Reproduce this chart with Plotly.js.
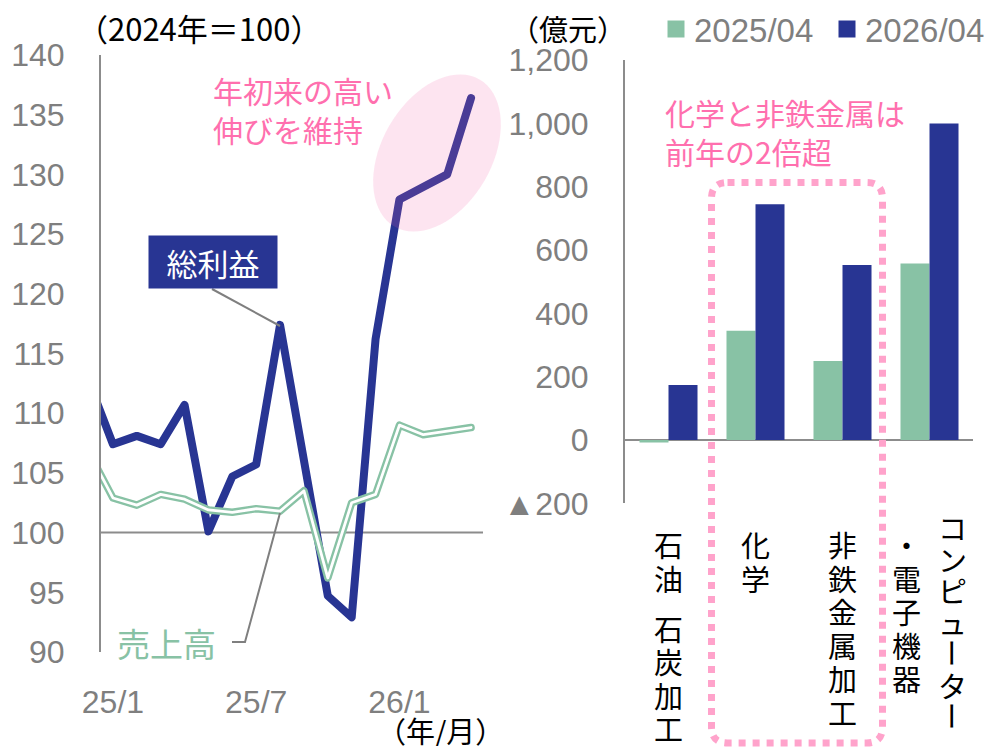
<!DOCTYPE html>
<html>
<head>
<meta charset="utf-8">
<script src="https://cdn.plot.ly/plotly-3.0.1.min.js"></script>
<style>html,body{margin:0;padding:0;background:#fff;}#chart{width:988px;height:748px;}</style>
</head>
<body>
<div id="chart"></div>
<script>
// ---- Data: left panel (2024 = 100) ----
const months = ['24/12','25/1','25/2','25/3','25/4','25/5','25/6','25/7','25/8','25/9','25/10','25/11','25/12','26/1','26/2','26/3','26/4'];
const grossProfit = [112.6, 107.4, 108.1, 107.4, 110.7, 100.1, 104.7, 105.7, 117.4, 106.0, 94.7, 92.9, 116.2, 127.9, 129.0, 130.0, 136.4];
const sales = [106.7, 102.9, 102.3, 103.2, 102.8, 101.9, 101.7, 102.0, 101.8, 103.5, 96.2, 102.5, 103.2, 109.0, 108.2, 108.5, 108.8];
const monthTicks = ['25/1', '25/7', '26/1'];

// ---- Data: right panel (億元) ----
const industries = ['石油　石炭加工', '化学', '非鉄金属加工', 'コンピューター・電子機器'];
const profit202504 = [-8, 345, 250, 558];
const profit202604 = [174, 745, 553, 1000];
const seriesNames = ['2025/04', '2026/04'];
const rightTickVals = [-200, 0, 200, 400, 600, 800, 1000, 1200];
const rightTickText = ['▲200', '0', '200', '400', '600', '800', '1,000', '1,200'];

// ---- Styles ----
const W = 988, H = 748;
const BLUE = '#283593', GREEN = '#88c2a5', GRAY = '#7f7f7f', AXIS = '#8c8c8c';
const PINK = '#ff6fae', PINK_DOT = '#ffa3cb';
const FONT = 'Liberation Sans, Arial, Noto Sans CJK JP, sans-serif';
const JFONT = 'Noto Sans CJK JP, Liberation Sans, sans-serif';
const px = x => x / W, py = y => 1 - y / H;

const xIdx = months.map((m, i) => i - 1);
const tickIdx = monthTicks.map(t => months.indexOf(t) - 1);
const seriesColors = [GREEN, BLUE];

const traces = [
  {x: xIdx, y: grossProfit, type: 'scatter', mode: 'lines', xaxis: 'x', yaxis: 'y',
   line: {color: BLUE, width: 8}, showlegend: false, hoverinfo: 'skip'},
  {x: xIdx, y: sales, type: 'scatter', mode: 'lines', xaxis: 'x', yaxis: 'y',
   line: {color: GREEN, width: 7.5}, showlegend: false, hoverinfo: 'skip'},
  {x: xIdx, y: sales, type: 'scatter', mode: 'lines', xaxis: 'x', yaxis: 'y',
   line: {color: '#ffffff', width: 2.8}, showlegend: false, hoverinfo: 'skip'},
  {x: industries.map((c, i) => i), y: profit202504, type: 'bar', name: seriesNames[0],
   xaxis: 'x2', yaxis: 'y2', marker: {color: seriesColors[0]}, showlegend: false},
  {x: industries.map((c, i) => i), y: profit202604, type: 'bar', name: seriesNames[1],
   xaxis: 'x2', yaxis: 'y2', marker: {color: seriesColors[1]}, showlegend: false}
];

// rotated ellipse (highlight) in paper coords
function ellipsePath(cx, cy, a, b, deg) {
  const th = deg * Math.PI / 180; let d = '';
  for (let k = 0; k <= 72; k++) {
    const t = k / 72 * 2 * Math.PI;
    const X = cx + a * Math.cos(t) * Math.cos(th) - b * Math.sin(t) * Math.sin(th);
    const Y = cy - (a * Math.cos(t) * Math.sin(th) + b * Math.sin(t) * Math.cos(th));
    d += (k === 0 ? 'M' : 'L') + px(X).toFixed(5) + ',' + py(Y).toFixed(5);
  }
  return d + 'Z';
}
function roundRectPath(x0, y0, x1, y1, r) {
  const P = (x, y) => px(x).toFixed(5) + ',' + py(y).toFixed(5);
  return 'M' + P(x0 + r, y0) + ' L' + P(x1 - r, y0) + ' Q' + P(x1, y0) + ' ' + P(x1, y0 + r) +
    ' L' + P(x1, y1 - r) + ' Q' + P(x1, y1) + ' ' + P(x1 - r, y1) +
    ' L' + P(x0 + r, y1) + ' Q' + P(x0, y1) + ' ' + P(x0, y1 - r) +
    ' L' + P(x0, y0 + r) + ' Q' + P(x0, y0) + ' ' + P(x0 + r, y0) + ' Z';
}

const shapes = [
  {type: 'line', xref: 'x', yref: 'y', x0: -0.5, x1: 15.5, y0: 100, y1: 100,
   line: {color: AXIS, width: 2}, layer: 'below'},
  {type: 'path', xref: 'paper', yref: 'paper', path: ellipsePath(437, 153, 85, 55, 60),
   fillcolor: 'rgba(243,92,165,0.17)', line: {width: 0}, layer: 'above'},
  {type: 'line', xref: 'paper', yref: 'paper', x0: px(212), y0: py(289), x1: px(280), y1: py(326),
   line: {color: GRAY, width: 2}},
  {type: 'path', xref: 'paper', yref: 'paper',
   path: 'M' + px(232) + ',' + py(642) + ' L' + px(245) + ',' + py(642) + ' L' + px(280) + ',' + py(513),
   line: {color: GRAY, width: 2}},
  {type: 'path', xref: 'paper', yref: 'paper', path: roundRectPath(711.5, 182.5, 882.5, 743, 16),
   line: {color: PINK_DOT, width: 7, dash: 'dot'}}
];

function note(x, y, text, font, extra) {
  return Object.assign({xref: 'paper', yref: 'paper', x: px(x), y: py(y), xanchor: 'center', yanchor: 'middle',
    text: text, showarrow: false, font: font}, extra || {});
}

const annotations = [
  note(199, 27, '（2024年＝100）', {family: JFONT, size: 31, color: '#000'}),
  note(568, 28, '（億元）', {family: JFONT, size: 29, color: '#000'}),
  note(440, 730, '（年/月）', {family: JFONT, size: 29, color: '#000'}, {height: 32, borderpad: 0}),
  note(211, 109, '年初来の高い<br>伸びを維持', {family: JFONT, size: 30, color: PINK}, {xanchor: 'left', align: 'left'}),
  note(663, 131, '化学と非鉄金属は<br>前年の2倍超', {family: JFONT, size: 30, color: PINK}, {xanchor: 'left', align: 'left'}),
  note(212.5, 262, '総利益', {family: JFONT, size: 31, color: '#fff'}, {width: 124, height: 48, bgcolor: BLUE, borderpad: 2}),
  note(166, 643, '売上高', {family: JFONT, size: 33, color: GREEN})
];

// manual legend (series names + colours)
const legendPos = [676, 847];
seriesNames.forEach((nm, i) => {
  shapes.push({type: 'rect', xref: 'paper', yref: 'paper',
    x0: px(legendPos[i] - 8.5), x1: px(legendPos[i] + 8.5), y0: py(37.5), y1: py(20.5),
    fillcolor: seriesColors[i], line: {width: 0}});
  annotations.push(note(legendPos[i] + 16, 30, nm, {family: FONT, size: 33, color: GRAY}, {xanchor: 'left'}));
});

// vertical (stacked) category labels: one character per cell, columns wrap right-to-left
const MAXC = 7, COLW = 46, TOP = 544, PITCH = 33.5, BOTTOM = 731, CH = 29;
industries.forEach((name, i) => {
  const chars = Array.from(name);
  const cols = [];
  for (let k = 0; k < chars.length; k += MAXC) cols.push(chars.slice(k, k + MAXC));
  cols.forEach((col, k) => {
    const units = col.map(c => (c === '　' ? 0.5 : 1));
    let total = units.slice(1).reduce((a, b) => a + b, 0);
    let top = TOP, pitch = PITCH;
    if (top + total * pitch > BOTTOM) { top = 527; pitch = (BOTTOM - 15 - top) / total; }
    let pos = top;
    col.forEach((c, j) => {
      if (j > 0) pos += units[j] * pitch;
      if (c === '　') return;
      annotations.push({xref: 'x2', yref: 'paper', x: i, y: py(pos), xanchor: 'center', yanchor: 'middle',
        xshift: ((cols.length - 1) / 2 - k) * COLW, text: c, showarrow: false,
        textangle: (c === 'ー' ? 90 : 0), height: Math.floor(pitch) - 1, borderpad: 0,
        font: {family: JFONT, size: CH, color: '#000'}});
    });
  });
});

const layout = {
  width: W, height: H, margin: {l: 0, r: 0, t: 0, b: 0},
  paper_bgcolor: '#fff', plot_bgcolor: 'rgba(0,0,0,0)',
  font: {family: FONT, color: GRAY, size: 31},
  showlegend: false,
  xaxis: {domain: [px(101), px(483)], range: [-0.5, 15.5], showline: false, showgrid: false,
    zeroline: false, tickmode: 'array', tickvals: tickIdx, ticktext: monthTicks, ticks: '',
    ticklabelstandoff: 28, tickfont: {size: 32, color: GRAY}, automargin: false},
  yaxis: {domain: [py(652), py(55)], range: [90, 140], showline: true, linecolor: AXIS, linewidth: 2,
    showgrid: false, zeroline: false, tickmode: 'array', tickvals: [90, 95, 100, 105, 110, 115, 120, 125, 130, 135, 140],
    ticks: '', ticklabelstandoff: 28, tickfont: {size: 32, color: GRAY}, automargin: false},
  xaxis2: {domain: [px(625), px(973)], range: [-0.5, 3.5], showline: false, showgrid: false,
    zeroline: false, showticklabels: false, ticks: '', automargin: false},
  yaxis2: {domain: [py(503.3), py(60.2)], range: [-200, 1200], anchor: 'x2', showline: true,
    linecolor: AXIS, linewidth: 2, showgrid: false, zeroline: true, zerolinecolor: AXIS, zerolinewidth: 2.5,
    tickmode: 'array', tickvals: rightTickVals, ticktext: rightTickText, ticks: '', ticklabelstandoff: 28,
    tickfont: {size: 32, color: GRAY}, automargin: false},
  barmode: 'group', bargap: 0.333, bargroupgap: 0,
  shapes: shapes, annotations: annotations
};

Plotly.newPlot('chart', traces, layout, {staticPlot: true}).then(() => {
  document.querySelectorAll('.scatterlayer path.js-line').forEach(p => {
    p.style.strokeLinejoin = 'round'; p.style.strokeLinecap = 'round';
  });
});
</script>
</body>
</html>
